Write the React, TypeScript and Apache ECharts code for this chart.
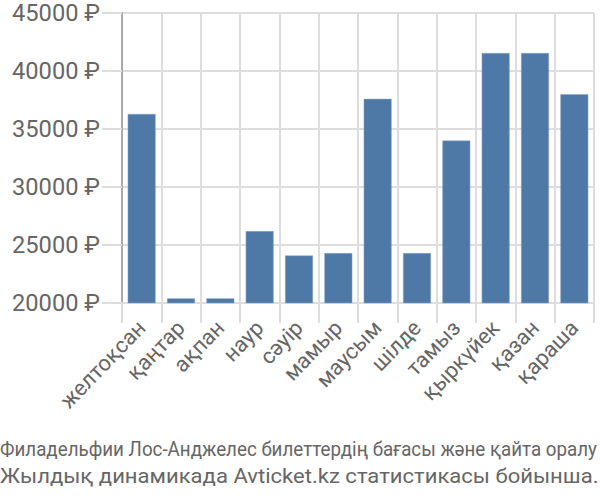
import React, { useEffect, useRef } from "react";
import * as echarts from "echarts";

const months = ["желтоқсан", "қаңтар", "ақпан", "наур", "сәуір", "мамыр", "маусым", "шілде", "тамыз", "қыркүйек", "қазан", "қараша"];
const prices = [36300, 20400, 20400, 26200, 24100, 24300, 37600, 24300, 34000, 41550, 41550, 38000];
const titleLine1 = "Филадельфии Лос-Анджелес билеттердің бағасы және қайта оралу";
const titleLine2 = "Жылдық динамикада Avticket.kz статистикасы бойынша.";

const FONT = "Roboto";

function measure(text: string, size: number): number {
  const c = document.createElement("canvas").getContext("2d")!;
  c.font = `${size}px ${FONT}`;
  return c.measureText(text).width;
}

export default function App() {
  const ref = useRef<HTMLDivElement>(null);
  useEffect(() => {
    const chart = echarts.init(ref.current!, null, { renderer: "svg" });
    const s1 = 597 / measure(titleLine1, 21);
    const s2 = 599 / measure(titleLine2, 21);
    const ySize = Math.min(24, Math.max(18, 20 * 88 / measure("45000 ₽", 20)));
    const xSize = Math.min(24, Math.max(18, 20 * 112 / measure("желтоқсан", 20)));
    chart.setOption({
      animation: false,
      graphic: [
        { type: "text", x: 0, y: 449, scaleX: s1, style: { text: titleLine1, fontFamily: FONT, fontSize: 21, fill: "#666", textVerticalAlign: "middle" } },
        { type: "text", x: 0, y: 476, scaleX: s2, style: { text: titleLine2, fontFamily: FONT, fontSize: 21, fill: "#666", textVerticalAlign: "middle" } },
      ],
      grid: { left: 122, right: 6, top: 13, bottom: 197, containLabel: false },
      xAxis: {
        type: "category",
        data: months,
        axisLine: { show: true, lineStyle: { color: "#ddd", width: 2 } },
        axisTick: { show: true, length: 20, lineStyle: { color: "#ddd", width: 2 } },
        splitLine: { show: true, lineStyle: { color: "#ddd", width: 2 } },
        axisLabel: { rotate: 46, margin: 21, fontFamily: FONT, fontSize: xSize, color: "#666", interval: 0 },
      },
      yAxis: {
        type: "value",
        min: 20000,
        max: 45000,
        interval: 5000,
        axisLine: { show: true, lineStyle: { color: "#aaa", width: 2 } },
        axisTick: { show: true, length: 20, lineStyle: { color: "#ddd", width: 2 } },
        splitLine: { show: true, lineStyle: { color: "#ddd", width: 2 } },
        axisLabel: { margin: 22, fontFamily: FONT, fontSize: ySize, color: "#666", formatter: (v: number) => v + " ₽" },
      },
      series: [
        {
          type: "bar",
          data: prices,
          barCategoryGap: "29%",
          itemStyle: { color: "#4e79a7", borderColor: "#8fabc9", borderWidth: 0.5 },
        },
      ],
    });
    return () => chart.dispose();
  }, []);
  return <div ref={ref} style={{ width: 600, height: 500, position: "absolute", left: 0, top: 0 }} />;
}
